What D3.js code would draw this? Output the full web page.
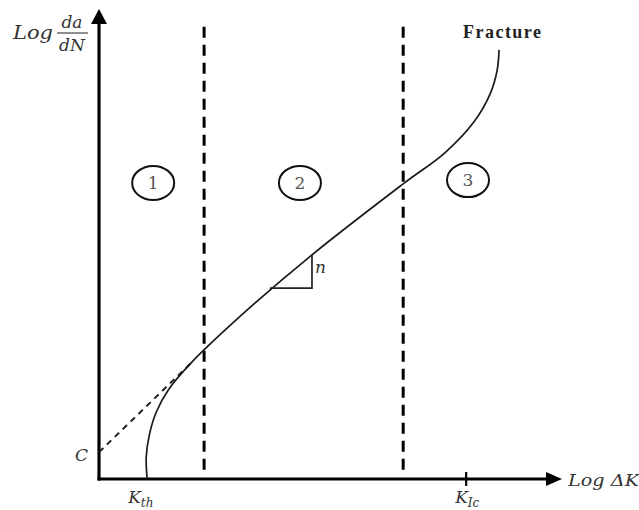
<!DOCTYPE html>
<html>
<head>
<meta charset="utf-8">
<script src="https://cdn.jsdelivr.net/npm/d3@7"></script>
<style>
  html, body { margin: 0; padding: 0; background: #fff; }
  svg { display: block; }
  .math { font-family: "DejaVu Serif", serif; font-style: italic; fill: #333; }
</style>
</head>
<body>
<svg id="chart" width="639" height="510"></svg>
<script>
// ---- Data (abstract units: log ΔK on x, log da/dN on y) ----
const curveX = [10.4, 10.2, 10.9, 12.4, 15.0, 19.7, 29.8, 46.0, 65.7, 74.7, 81.0, 84.5, 86.0, 86.4];
const curveY = [0.0, 4.7, 9.5, 14.3, 19.0, 24.5, 34.0, 47.7, 62.8, 69.4, 76.0, 82.0, 87.0, 91.3];
const extrapX = [0.0, 19.9];          // dashed Paris-law extrapolation to C
const extrapY = [5.7, 24.7];
const regionBounds = [22.7, 65.7];    // dashed region separators
const regionSpan = [1.9, 96.2];
const regionLabels = ["1", "2", "3"];
const regionLabelX = [11.7, 43.4, 79.7];
const regionLabelY = [63.0, 63.0, 63.6];
const slopeTriX = [36.9, 46.0];       // slope triangle (n)
const slopeTriY = [40.6, 47.7];
const kThX = 10.4;
const kIcX = 79.3;
const cY = 5.7;

// ---- Scales ----
const x = d3.scaleLinear().domain([0, 100]).range([99, 562]);
const y = d3.scaleLinear().domain([0, 100]).range([479, 9]);

const svg = d3.select("#chart");

// axes lines
svg.append("line").attr("x1", x(0)).attr("y1", y(0) + 1.5).attr("x2", x(0)).attr("y2", y(100) + 12)
  .attr("stroke", "#000").attr("stroke-width", 3.2);
svg.append("line").attr("x1", x(0) - 1.5).attr("y1", y(0)).attr("x2", x(100) - 12).attr("y2", y(0))
  .attr("stroke", "#000").attr("stroke-width", 3.2);
// arrow heads
svg.append("path")
  .attr("d", `M${x(0)},${y(100)} L${x(0) - 8},${y(100) + 15} L${x(0) + 8},${y(100) + 15} Z`)
  .attr("fill", "#000");
svg.append("path")
  .attr("d", `M${x(100)},${y(0)} L${x(100) - 16},${y(0) - 7} L${x(100) - 16},${y(0) + 7} Z`)
  .attr("fill", "#000");

// K_Ic tick
svg.append("line").attr("x1", x(kIcX)).attr("x2", x(kIcX)).attr("y1", y(0) - 7).attr("y2", y(0) + 7)
  .attr("stroke", "#000").attr("stroke-width", 2.2);

// region separators
svg.selectAll("line.sep").data(regionBounds).enter().append("line")
  .attr("class", "sep")
  .attr("x1", d => x(d)).attr("x2", d => x(d))
  .attr("y1", y(regionSpan[1])).attr("y2", y(regionSpan[0]))
  .attr("stroke", "#000").attr("stroke-width", 3)
  .attr("stroke-dasharray", "11,7");

// extrapolation dashed line
svg.append("line")
  .attr("x1", x(extrapX[0])).attr("y1", y(extrapY[0]))
  .attr("x2", x(extrapX[1])).attr("y2", y(extrapY[1]))
  .attr("stroke", "#222").attr("stroke-width", 2)
  .attr("stroke-dasharray", "6,5");

// main curve
const pts = curveX.map((v, i) => [v, curveY[i]]);
const line = d3.line().x(d => x(d[0])).y(d => y(d[1])).curve(d3.curveCatmullRom.alpha(0.5));
svg.append("path").datum(pts).attr("d", line)
  .attr("fill", "none").attr("stroke", "#1a1a1a").attr("stroke-width", 1.7);

// slope triangle
svg.append("path")
  .attr("d", `M${x(slopeTriX[0])},${y(slopeTriY[0])} L${x(slopeTriX[1])},${y(slopeTriY[0])} L${x(slopeTriX[1])},${y(slopeTriY[1])}`)
  .attr("fill", "none").attr("stroke", "#222").attr("stroke-width", 1.7);
svg.append("text").attr("class", "math")
  .attr("x", x(slopeTriX[1]) + 3).attr("y", y((slopeTriY[0] + slopeTriY[1]) / 2) + 2)
  .attr("font-size", 17).text("n");

// region ellipses and labels
const g = svg.selectAll("g.reg").data(regionLabels).enter().append("g").attr("class", "reg");
g.append("ellipse")
  .attr("cx", (d, i) => x(regionLabelX[i])).attr("cy", (d, i) => y(regionLabelY[i]))
  .attr("rx", 21).attr("ry", 17)
  .attr("fill", "none").attr("stroke", "#111").attr("stroke-width", 2);
g.append("text")
  .attr("x", (d, i) => x(regionLabelX[i])).attr("y", (d, i) => y(regionLabelY[i]) + 6)
  .attr("text-anchor", "middle")
  .attr("font-family", "'DejaVu Serif', serif").attr("font-size", 17).attr("fill", "#555")
  .text(d => d);

// Fracture label
svg.append("text").attr("x", 463).attr("y", 38)
  .attr("font-family", "'Liberation Serif', serif").attr("font-size", 18).attr("fill", "#222")
  .attr("font-weight", "bold").attr("textLength", 78).attr("lengthAdjust", "spacing")
  .text("Fracture");

// y axis label: Log da/dN
svg.append("text").attr("class", "math").attr("x", 13).attr("y", 39)
  .attr("font-size", 18).attr("textLength", 40).attr("lengthAdjust", "spacingAndGlyphs").text("Log");
svg.append("text").attr("class", "math").attr("x", 72).attr("y", 28)
  .attr("font-size", 17).attr("text-anchor", "middle").text("da");
svg.append("line").attr("x1", 57).attr("x2", 88).attr("y1", 33).attr("y2", 33)
  .attr("stroke", "#444").attr("stroke-width", 1.2);
svg.append("text").attr("class", "math").attr("x", 72).attr("y", 51)
  .attr("font-size", 17).attr("text-anchor", "middle").text("dN");

// x axis label: Log ΔK
svg.append("text").attr("class", "math").attr("x", 568).attr("y", 486)
  .attr("font-size", 17).attr("textLength", 71).attr("lengthAdjust", "spacingAndGlyphs").text("Log ΔK");

// C label
svg.append("text").attr("class", "math").attr("x", 75).attr("y", y(cY) + 9)
  .attr("font-size", 17).text("C");

// K_th label
const kth = svg.append("text").attr("class", "math").attr("x", x(kThX) - 19).attr("y", 503).attr("font-size", 17);
kth.append("tspan").text("K");
kth.append("tspan").attr("font-size", 12).attr("dy", 4).text("th");

// K_Ic label
const kic = svg.append("text").attr("class", "math").attr("x", x(kIcX) - 11).attr("y", 503).attr("font-size", 17);
kic.append("tspan").text("K");
kic.append("tspan").attr("font-size", 12).attr("dy", 4).text("Ic");
</script>
</body>
</html>
